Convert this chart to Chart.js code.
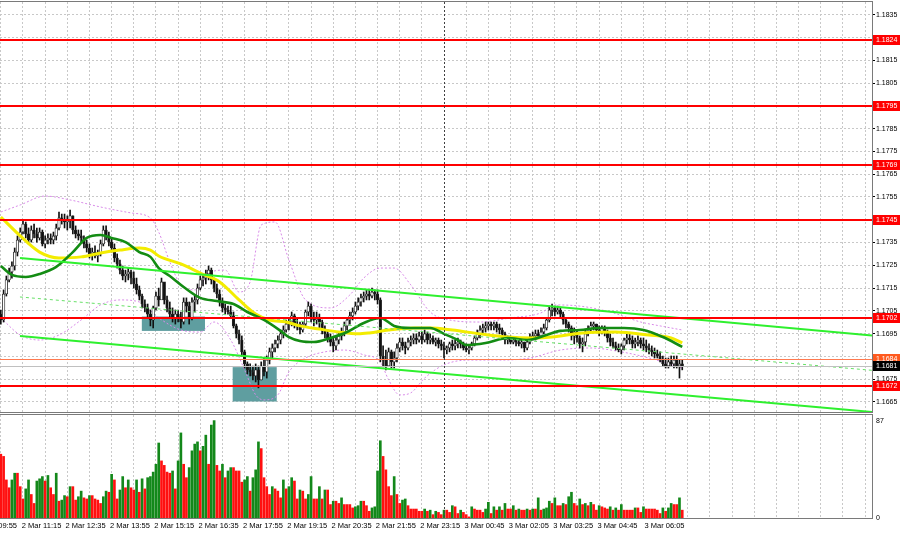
<!DOCTYPE html>
<html>
<head>
<meta charset="utf-8">
<script src="https://cdn.jsdelivr.net/npm/chart.js@4.4.1/dist/chart.umd.min.js"></script>
<style>
html,body{margin:0;padding:0;background:#fff;overflow:hidden;}
#main{position:absolute;left:0;top:0;}
#vol{position:absolute;left:0;top:412px;}
</style>
</head>
<body>
<canvas id="main" width="900" height="414"></canvas>
<canvas id="vol" width="900" height="122"></canvas>
<script>
// ---------- DATA (EURUSD M5, 2-3 Mar) ----------
const firstBar = -8; // bar index of first visible candle (bar 0 = 2 Mar 11:15)
const opens = [1.17036,1.17010,1.17124,1.17186,1.17221,1.17247,1.17308,1.17361,1.17396,1.17431,
1.17388,1.17361,1.17405,1.17388,1.17370,1.17396,1.17344,1.17361,1.17370,1.17361,
1.17379,1.17414,1.17458,1.17449,1.17440,1.17449,1.17467,1.17405,1.17388,1.17379,
1.17370,1.17344,1.17326,1.17300,1.17308,1.17291,1.17300,1.17344,1.17405,1.17379,
1.17352,1.17326,1.17282,1.17256,1.17229,1.17203,1.17212,1.17221,1.17194,1.17168,
1.17142,1.17115,1.17080,1.17063,1.17036,1.17010,1.17063,1.17115,1.17098,1.17177,
1.17098,1.17063,1.17036,1.17019,1.17036,1.17019,1.17001,1.17089,1.17071,1.17019,
1.17089,1.17098,1.17150,1.17186,1.17194,1.17212,1.17229,1.17186,1.17150,1.17124,
1.17089,1.17063,1.17054,1.17045,1.17028,1.16984,1.16949,1.16922,1.16870,1.16817,
1.16791,1.16782,1.16764,1.16791,1.16747,1.16808,1.16782,1.16834,1.16870,1.16887,
1.16905,1.16922,1.16949,1.16966,1.16992,1.17001,1.17028,1.16992,1.16984,1.16966,
1.16992,1.17045,1.17071,1.17019,1.17010,1.17019,1.17001,1.16966,1.16949,1.16931,
1.16913,1.16896,1.16922,1.16940,1.16957,1.16984,1.17010,1.17028,1.17045,1.17071,
1.17089,1.17107,1.17115,1.17124,1.17115,1.17133,1.17124,1.17098,1.16852,1.16834,
1.16808,1.16870,1.16826,1.16843,1.16887,1.16913,1.16896,1.16887,1.16913,1.16922,
1.16931,1.16922,1.16940,1.16922,1.16949,1.16922,1.16931,1.16913,1.16922,1.16905,
1.16896,1.16878,1.16887,1.16905,1.16896,1.16905,1.16913,1.16905,1.16887,1.16878,
1.16887,1.16905,1.16931,1.16949,1.16966,1.16975,1.16984,1.16992,1.16984,1.16992,
1.16975,1.16966,1.16949,1.16922,1.16931,1.16913,1.16922,1.16913,1.16905,1.16913,
1.16887,1.16913,1.16931,1.16940,1.16949,1.16940,1.16957,1.16975,1.17010,1.17054,
1.17063,1.17045,1.17054,1.17036,1.17010,1.16992,1.16975,1.16940,1.16957,1.16931,
1.16905,1.16913,1.16949,1.16966,1.16984,1.16992,1.16966,1.16957,1.16975,1.16957,
1.16931,1.16913,1.16896,1.16887,1.16878,1.16896,1.16922,1.16931,1.16922,1.16905,
1.16913,1.16922,1.16905,1.16896,1.16887,1.16878,1.16870,1.16861,1.16852,1.16834,
1.16817,1.16808,1.16826,1.16817,1.16834,1.16808,1.16817];
const highs = [1.17054,1.17142,1.17203,1.17238,1.17265,1.17326,1.17379,1.17414,1.17449,1.17440,
1.17414,1.17423,1.17431,1.17414,1.17414,1.17405,1.17379,1.17388,1.17388,1.17396,
1.17431,1.17484,1.17475,1.17475,1.17467,1.17493,1.17467,1.17423,1.17405,1.17405,
1.17379,1.17361,1.17344,1.17326,1.17335,1.17317,1.17361,1.17423,1.17423,1.17396,
1.17370,1.17344,1.17300,1.17273,1.17247,1.17229,1.17238,1.17229,1.17221,1.17194,
1.17159,1.17124,1.17098,1.17080,1.17054,1.17071,1.17133,1.17150,1.17194,1.17168,
1.17115,1.17089,1.17063,1.17054,1.17054,1.17045,1.17107,1.17107,1.17089,1.17107,
1.17115,1.17168,1.17203,1.17212,1.17229,1.17247,1.17238,1.17194,1.17168,1.17142,
1.17107,1.17080,1.17071,1.17071,1.17045,1.16992,1.16966,1.16940,1.16878,1.16826,
1.16817,1.16808,1.16817,1.16808,1.16826,1.16843,1.16852,1.16887,1.16905,1.16922,
1.16940,1.16966,1.16984,1.17010,1.17019,1.17045,1.17036,1.17019,1.17001,1.17001,
1.17054,1.17089,1.17080,1.17045,1.17045,1.17036,1.17010,1.16984,1.16966,1.16949,
1.16931,1.16940,1.16957,1.16975,1.17001,1.17019,1.17045,1.17063,1.17089,1.17107,
1.17124,1.17133,1.17142,1.17142,1.17150,1.17142,1.17142,1.17107,1.16896,1.16878,
1.16887,1.16878,1.16870,1.16905,1.16931,1.16931,1.16913,1.16931,1.16940,1.16949,
1.16949,1.16957,1.16957,1.16966,1.16957,1.16949,1.16940,1.16931,1.16931,1.16922,
1.16913,1.16896,1.16913,1.16922,1.16922,1.16931,1.16922,1.16913,1.16905,1.16896,
1.16913,1.16940,1.16966,1.16984,1.16992,1.17001,1.17001,1.17001,1.17001,1.17001,
1.16992,1.16975,1.16957,1.16940,1.16940,1.16931,1.16931,1.16931,1.16922,1.16913,
1.16922,1.16949,1.16957,1.16966,1.16966,1.16975,1.16992,1.17019,1.17071,1.17080,
1.17071,1.17071,1.17063,1.17045,1.17019,1.17001,1.16984,1.16975,1.16966,1.16940,
1.16931,1.16966,1.16984,1.17001,1.17001,1.16992,1.16984,1.16984,1.16984,1.16966,
1.16949,1.16931,1.16913,1.16905,1.16905,1.16931,1.16949,1.16949,1.16940,1.16931,
1.16940,1.16931,1.16931,1.16922,1.16905,1.16896,1.16887,1.16878,1.16870,1.16852,
1.16843,1.16843,1.16852,1.16852,1.16852,1.16834,1.16834];
const lows = [1.16992,1.17001,1.17115,1.17177,1.17194,1.17229,1.17291,1.17352,1.17388,1.17370,
1.17344,1.17352,1.17370,1.17352,1.17361,1.17335,1.17326,1.17344,1.17344,1.17344,
1.17361,1.17405,1.17431,1.17414,1.17405,1.17414,1.17388,1.17370,1.17361,1.17352,
1.17326,1.17308,1.17282,1.17273,1.17282,1.17265,1.17291,1.17335,1.17361,1.17335,
1.17308,1.17265,1.17238,1.17212,1.17186,1.17177,1.17186,1.17168,1.17150,1.17124,
1.17098,1.17063,1.17045,1.17019,1.16984,1.16975,1.17054,1.17071,1.17115,1.17080,
1.17045,1.17019,1.17001,1.16992,1.17001,1.16975,1.16992,1.17045,1.16992,1.17010,
1.17045,1.17080,1.17142,1.17159,1.17168,1.17186,1.17168,1.17133,1.17107,1.17071,
1.17045,1.17036,1.17036,1.17019,1.16975,1.16931,1.16905,1.16852,1.16799,1.16773,
1.16764,1.16747,1.16738,1.16712,1.16747,1.16764,1.16755,1.16817,1.16843,1.16870,
1.16887,1.16905,1.16931,1.16957,1.16966,1.16984,1.16975,1.16966,1.16949,1.16957,
1.16984,1.17028,1.17001,1.16984,1.16992,1.16975,1.16949,1.16931,1.16913,1.16896,
1.16870,1.16878,1.16905,1.16922,1.16940,1.16966,1.16992,1.17010,1.17036,1.17054,
1.17071,1.17089,1.17098,1.17098,1.17107,1.17098,1.17080,1.16826,1.16808,1.16791,
1.16808,1.16799,1.16799,1.16826,1.16870,1.16878,1.16861,1.16878,1.16896,1.16905,
1.16905,1.16913,1.16905,1.16913,1.16905,1.16905,1.16905,1.16896,1.16887,1.16878,
1.16843,1.16861,1.16870,1.16878,1.16878,1.16887,1.16887,1.16878,1.16870,1.16861,
1.16878,1.16896,1.16922,1.16931,1.16949,1.16957,1.16966,1.16966,1.16966,1.16957,
1.16949,1.16931,1.16905,1.16905,1.16905,1.16905,1.16896,1.16896,1.16887,1.16870,
1.16878,1.16905,1.16922,1.16922,1.16931,1.16931,1.16949,1.16966,1.17001,1.17028,
1.17028,1.17036,1.17019,1.16992,1.16975,1.16957,1.16922,1.16905,1.16913,1.16887,
1.16870,1.16896,1.16940,1.16957,1.16966,1.16957,1.16940,1.16949,1.16940,1.16913,
1.16896,1.16887,1.16878,1.16870,1.16861,1.16878,1.16905,1.16905,1.16887,1.16887,
1.16896,1.16887,1.16878,1.16870,1.16861,1.16852,1.16843,1.16843,1.16826,1.16808,
1.16799,1.16799,1.16808,1.16799,1.16799,1.16755,1.16791];
const closes = [1.17010,1.17124,1.17186,1.17221,1.17247,1.17308,1.17361,1.17396,1.17431,1.17388,
1.17361,1.17405,1.17388,1.17370,1.17396,1.17344,1.17361,1.17370,1.17361,1.17379,
1.17414,1.17458,1.17449,1.17440,1.17449,1.17467,1.17405,1.17388,1.17379,1.17370,
1.17344,1.17326,1.17300,1.17308,1.17291,1.17300,1.17344,1.17405,1.17379,1.17352,
1.17326,1.17282,1.17256,1.17229,1.17203,1.17212,1.17221,1.17194,1.17168,1.17142,
1.17115,1.17080,1.17063,1.17036,1.17010,1.17063,1.17115,1.17098,1.17177,1.17098,
1.17063,1.17036,1.17019,1.17036,1.17019,1.17001,1.17089,1.17071,1.17019,1.17089,
1.17098,1.17150,1.17186,1.17194,1.17212,1.17229,1.17186,1.17150,1.17124,1.17089,
1.17063,1.17054,1.17045,1.17028,1.16984,1.16949,1.16922,1.16870,1.16817,1.16791,
1.16782,1.16764,1.16791,1.16747,1.16808,1.16782,1.16834,1.16870,1.16887,1.16905,
1.16922,1.16949,1.16966,1.16992,1.17001,1.17028,1.16992,1.16984,1.16966,1.16992,
1.17045,1.17071,1.17019,1.17010,1.17019,1.17001,1.16966,1.16949,1.16931,1.16913,
1.16896,1.16922,1.16940,1.16957,1.16984,1.17010,1.17028,1.17045,1.17071,1.17089,
1.17107,1.17115,1.17124,1.17115,1.17133,1.17124,1.17098,1.16852,1.16834,1.16808,
1.16870,1.16826,1.16843,1.16887,1.16913,1.16896,1.16887,1.16913,1.16922,1.16931,
1.16922,1.16940,1.16922,1.16949,1.16922,1.16931,1.16913,1.16922,1.16905,1.16896,
1.16878,1.16887,1.16905,1.16896,1.16905,1.16913,1.16905,1.16887,1.16878,1.16887,
1.16905,1.16931,1.16949,1.16966,1.16975,1.16984,1.16992,1.16984,1.16992,1.16975,
1.16966,1.16949,1.16922,1.16931,1.16913,1.16922,1.16913,1.16905,1.16913,1.16887,
1.16913,1.16931,1.16940,1.16949,1.16940,1.16957,1.16975,1.17010,1.17054,1.17063,
1.17045,1.17054,1.17036,1.17010,1.16992,1.16975,1.16940,1.16957,1.16931,1.16905,
1.16913,1.16949,1.16966,1.16984,1.16992,1.16966,1.16957,1.16975,1.16957,1.16931,
1.16913,1.16896,1.16887,1.16878,1.16896,1.16922,1.16931,1.16922,1.16905,1.16913,
1.16922,1.16905,1.16896,1.16887,1.16878,1.16870,1.16861,1.16852,1.16834,1.16817,
1.16808,1.16826,1.16817,1.16834,1.16808,1.16817,1.16808];
const volumes = [57,55,34,27,34,40,40,28,17,26,34,21,13,33,35,37,33,38,
27,21,40,15,16,20,19,28,28,16,19,24,18,17,20,20,17,16,
13,19,24,23,39,34,17,25,37,27,34,27,25,34,23,35,26,36,
37,41,48,67,51,47,41,40,42,26,51,76,48,36,45,60,66,68,
60,64,74,48,83,87,47,42,48,36,42,45,45,42,42,32,34,37,
24,36,43,68,62,36,28,21,28,26,24,18,34,26,28,36,33,17,
25,24,17,21,37,17,17,28,17,25,25,12,15,15,13,18,12,12,
12,9,10,11,15,15,11,6,9,10,42,69,
55,43,28,20,37,21,13,16,17,11,8,8,8,6,6,8,6,7,3,6,5,
3,7,7,5,11,10,4,7,5,3,1,10,8,7,7,5,8,14,4,10,
7,10,7,13,8,8,11,7,8,7,7,8,7,8,8,18,7,8,9,15,
13,18,11,11,13,12,19,23,13,11,17,12,13,11,14,12,7,11,10,9,
8,10,7,9,7,12,7,7,7,7,9,9,5,10,8,8,8,8,7,4,
9,6,9,13,12,12,18,7];

// moving averages / bands : [bar index, price]
const maSlow = [[-8,1.17462],[-1,1.17379],[6,1.17308],[13,1.17282],[21,1.17287],[28,1.17304],[35,1.17317],[42,1.17326],[46,1.17317],[49,1.17291],[57,1.17256],[64,1.17216],[71,1.17177],[78,1.17098],[84,1.17036],[89,1.17010],[95,1.17001],[100,1.16984],[107,1.16970],[114,1.16957],[121,1.16949],[125,1.16953],[132,1.16966],[141,1.16975],[147,1.16975],[155,1.16966],[165,1.16949],[175,1.16935],[184,1.16931],[191,1.16935],[202,1.16953],[214,1.16957],[226,1.16944],[234,1.16931],[238,1.16909]];
const maFast = [[-8,1.17247],[-4,1.17208],[1,1.17199],[6,1.17212],[12,1.17243],[18,1.17308],[23,1.17370],[28,1.17383],[32,1.17370],[37,1.17352],[42,1.17308],[46,1.17287],[49,1.17238],[53,1.17203],[58,1.17155],[64,1.17107],[70,1.17093],[76,1.17080],[81,1.17045],[87,1.17010],[93,1.16962],[96,1.16935],[100,1.16918],[105,1.16913],[111,1.16931],[117,1.16957],[123,1.16997],[129,1.17019],[134,1.16984],[140,1.16975],[147,1.16975],[152,1.16949],[157,1.16922],[160,1.16900],[167,1.16909],[175,1.16931],[182,1.16922],[189,1.16944],[194,1.16962],[201,1.16966],[208,1.16975],[217,1.16975],[224,1.16966],[231,1.16935],[238,1.16892]];
const bbUpper = [[-8,1.17484],[-1,1.17515],[8,1.17554],[17,1.17537],[28,1.17506],[39,1.17480],[46,1.17458],[49,1.17396],[53,1.17265],[57,1.17164],[62,1.17142],[68,1.17221],[73,1.17229],[78,1.17133],[82,1.17177],[86,1.17427],[91,1.17440],[96,1.17273],[102,1.17098],[111,1.17063],[118,1.17120],[123,1.17194],[129,1.17238],[134,1.17238],[140,1.17164],[147,1.17045],[154,1.17010],[165,1.17001],[176,1.17019],[187,1.17041],[192,1.17076],[201,1.17071],[212,1.17045],[223,1.17001],[230,1.16984],[238,1.16966]];
const bbLower = [[-8,1.17019],[-1,1.16944],[6,1.16922],[13,1.16944],[21,1.17010],[28,1.17076],[35,1.17098],[42,1.17089],[49,1.17019],[57,1.16966],[64,1.16957],[69,1.17001],[75,1.16922],[80,1.16791],[84,1.16681],[87,1.16659],[92,1.16681],[96,1.16782],[102,1.16843],[109,1.16870],[116,1.16878],[123,1.16857],[129,1.16826],[132,1.16747],[136,1.16681],[140,1.16690],[145,1.16755],[152,1.16813],[161,1.16834],[172,1.16834],[183,1.16843],[194,1.16878],[205,1.16887],[216,1.16870],[226,1.16843],[238,1.16799]];

// drawn objects
const channelUpper = [[-1.1,1.17282],[306.5,1.16942]];
const channelMid   = [[-1.1,1.17111],[306.5,1.16789]];
const channelLower = [[-1.1,1.16940],[306.5,1.16606]];
const levels = [1.1824,1.1795,1.1769,1.1745,1.1702,1.1672];
const pendingLevel = 1.1684;
const lastPrice = 1.1681;
const zones = [[42.9,65.7,1.17025,1.16962],[75.7,91.6,1.16803,1.16652]];
const daySeparatorBar = 152;

// axes
const priceGrid = [1.1665,1.1675,1.1685,1.1695,1.1705,1.1715,1.1725,1.1735,1.1745,1.1755,1.1765,1.1775,1.1785,1.1795,1.1805,1.1815,1.1825,1.1835];
const hiddenPriceLabels = [1.1685,1.1745,1.1795,1.1825];
const timeLabels = ["2 Mar 09:55","2 Mar 11:15","2 Mar 12:35","2 Mar 13:55","2 Mar 15:15","2 Mar 16:35","2 Mar 17:55","2 Mar 19:15","2 Mar 20:35","2 Mar 21:55","2 Mar 23:15","3 Mar 00:45","3 Mar 02:05","3 Mar 03:25","3 Mar 04:45","3 Mar 06:05"];
const timeLabelBars = [-16,0,16,32,48,64,80,96,112,128,144,160,176,192,208,224];
const volumeTicks = [0,87];

// ---------- RENDER ----------
const FONT = '"Liberation Sans", Arial, sans-serif';
const xMin = -8.3, xMax = 306.5;
const yMin = 1.16606, yMax = 1.18406;
const gridBars = [];
for (let b = -8; b <= 304; b += 8) gridBars.push(b);
const pts = a => a.map(p => ({x: p[0], y: p[1]}));
const barX = i => firstBar + i;

const GRID = '#c8c8c8';
const FRAME = '#7a7a7a';

function drawSeparator(chart){
  const {ctx, chartArea:a, scales:{x}} = chart;
  const px = Math.round(x.getPixelForValue(daySeparatorBar)) + 0.5;
  ctx.save();
  ctx.strokeStyle = '#404040'; ctx.lineWidth = 1; ctx.setLineDash([2,2]);
  ctx.beginPath(); ctx.moveTo(px, a.top); ctx.lineTo(px, a.bottom); ctx.stroke();
  ctx.restore();
}
function drawFrame(chart){
  const {ctx, chartArea:a} = chart;
  ctx.save();
  ctx.strokeStyle = FRAME; ctx.lineWidth = 1;
  ctx.strokeRect(Math.round(a.left)-0.5, Math.round(a.top)-0.5, Math.round(a.right-a.left)+1, Math.round(a.bottom-a.top)+1);
  ctx.restore();
}
function tagBox(ctx, x0, y, text, fill){
  ctx.fillStyle = fill;
  ctx.fillRect(x0, Math.round(y)-5, 900-x0, 10);
  ctx.fillStyle = '#fff';
  ctx.font = '7px ' + FONT;
  ctx.textBaseline = 'middle'; ctx.textAlign = 'left';
  ctx.fillText(text, x0 + 3, Math.round(y) + 0.5);
}

const mainPlugin = {
  id: 'mainDeco',
  beforeDatasetsDraw(chart){
    const {ctx, scales:{x, y}} = chart;
    ctx.save();
    ctx.fillStyle = '#5f9ea0';
    zones.forEach(z => {
      const x1 = x.getPixelForValue(z[0]), x2 = x.getPixelForValue(z[1]);
      const y1 = y.getPixelForValue(z[2]), y2 = y.getPixelForValue(z[3]);
      ctx.fillRect(x1, y1, x2-x1, y2-y1);
    });
    ctx.restore();
  },
  afterDatasetsDraw(chart){
    const {ctx, chartArea:a, scales:{y}} = chart;
    ctx.save();
    ctx.beginPath(); ctx.rect(a.left, a.top, a.right-a.left, a.bottom-a.top); ctx.clip();
    let py = Math.round(y.getPixelForValue(lastPrice)) + 0.5;
    ctx.strokeStyle = '#c0c0c0'; ctx.lineWidth = 1;
    ctx.beginPath(); ctx.moveTo(a.left, py); ctx.lineTo(a.right, py); ctx.stroke();
    py = Math.round(y.getPixelForValue(pendingLevel)) + 0.5;
    ctx.strokeStyle = '#ff7a50';
    ctx.beginPath(); ctx.moveTo(a.left, py); ctx.lineTo(a.right, py); ctx.stroke();
    ctx.strokeStyle = '#ff0000'; ctx.lineWidth = 2;
    levels.forEach(v => {
      const p = Math.round(y.getPixelForValue(v));
      ctx.beginPath(); ctx.moveTo(a.left, p); ctx.lineTo(a.right, p); ctx.stroke();
    });
    ctx.restore();
    drawSeparator(chart);
  },
  afterDraw(chart){
    const {ctx, chartArea:a, scales:{y}} = chart;
    drawFrame(chart);
    ctx.save();
    const x0 = Math.round(a.right) + 1;
    levels.forEach(v => tagBox(ctx, x0, y.getPixelForValue(v), v.toFixed(4), '#ff0000'));
    tagBox(ctx, x0, y.getPixelForValue(pendingLevel), pendingLevel.toFixed(4), '#ff5a1e');
    tagBox(ctx, x0, y.getPixelForValue(lastPrice), lastPrice.toFixed(4), '#000000');
    ctx.restore();
  }
};

const lineDs = (label, data, color, width, dash, order, tension) => ({
  type: 'line', label, data: pts(data), borderColor: color, borderWidth: width,
  borderDash: dash, pointRadius: 0, fill: false, order,
  tension: tension, cubicInterpolationMode: tension ? 'monotone' : 'default'
});

new Chart(document.getElementById('main'), {
  type: 'bar',
  data: {
    datasets: [
      lineDs('BB upper', bbUpper, '#d88ae8', 1, [2,2], 9, 0.4),
      lineDs('BB lower', bbLower, '#d88ae8', 1, [2,2], 9, 0.4),
      {
        type: 'bar', label: 'wick',
        data: highs.map((h, i) => ({x: barX(i), y: [lows[i], h]})),
        backgroundColor: '#111', barThickness: 1, grouped: false, order: 8
      },
      {
        type: 'bar', label: 'body',
        data: opens.map((o, i) => ({x: barX(i), y: [o, closes[i]]})),
        backgroundColor: c => closes[c.dataIndex] >= opens[c.dataIndex] ? '#ffffff' : '#111111',
        borderColor: '#222', borderWidth: 0.8, borderSkipped: false,
        barThickness: 2.6, grouped: false, minBarLength: 1, order: 7
      },
      lineDs('MA slow', maSlow, '#f3ec00', 3, [], 5, 0.4),
      lineDs('MA fast', maFast, '#138c13', 2.6, [], 4, 0.4),
      lineDs('Channel mid', channelMid, '#66e066', 1, [3,3], 3, 0),
      lineDs('Channel upper', channelUpper, '#2ef02e', 2, [], 2, 0),
      lineDs('Channel lower', channelLower, '#2ef02e', 2, [], 2, 0)
    ]
  },
  options: {
    responsive: false, animation: false, events: [],
    layout: {padding: {top: 2, bottom: 2, left: 0, right: 0}},
    plugins: {legend: {display: false}, tooltip: {enabled: false}},
    scales: {
      x: {
        type: 'linear', min: xMin, max: xMax, offset: false,
        afterBuildTicks: s => { s.ticks = gridBars.map(v => ({value: v})); },
        afterFit: s => { s.height = 0; s.paddingLeft = 0; s.paddingRight = 0; },
        ticks: {display: false},
        grid: {color: GRID, drawTicks: false, offset: false},
        border: {display: false, dash: [2,2]}
      },
      y: {
        type: 'linear', position: 'right', min: yMin, max: yMax,
        afterBuildTicks: s => { s.ticks = priceGrid.map(v => ({value: v})); },
        afterFit: s => { s.width = 28; s.paddingTop = 0; s.paddingBottom = 0; },
        ticks: {
          callback: v => hiddenPriceLabels.some(h => Math.abs(h - v) < 1e-7) ? '' : Number(v).toFixed(4),
          font: {family: FONT, size: 7}, color: '#000', padding: 1, crossAlign: 'near'
        },
        grid: {color: GRID, drawTicks: true, tickLength: 3, tickColor: '#000'},
        border: {display: false, dash: [2,2]}
      }
    }
  },
  plugins: [mainPlugin]
});

// ---------- VOLUME PANEL ----------
const volPlugin = {
  id: 'volDeco',
  afterDatasetsDraw(chart){ drawSeparator(chart); },
  afterDraw(chart){
    const {ctx, chartArea:a, scales:{x}} = chart;
    drawFrame(chart);
    ctx.save();
    ctx.font = '7.5px ' + FONT; ctx.fillStyle = '#000'; ctx.textBaseline = 'middle';
    const starts = timeLabelBars.map(b => x.getPixelForValue(b));
    timeLabels.forEach((t, i) => {
      let px = starts[i];
      const w = ctx.measureText(t).width;
      if (i + 1 < starts.length && px + w > starts[i+1] - 7) px = starts[i+1] - 7 - w;
      ctx.textAlign = 'left';
      ctx.fillText(t, px + 1, a.bottom + 8);
    });
    ctx.restore();
  }
};

new Chart(document.getElementById('vol'), {
  type: 'bar',
  data: {
    datasets: [{
      label: 'Volumes',
      data: volumes.map((v, i) => ({x: barX(i), y: v})),
      backgroundColor: c => (c.dataIndex > 0 && volumes[c.dataIndex] > volumes[c.dataIndex - 1]) ? '#13881a' : '#ff1010',
      barThickness: 2, grouped: false
    }]
  },
  options: {
    responsive: false, animation: false, events: [],
    layout: {padding: {top: 3, bottom: 0, left: 0, right: 0}},
    plugins: {legend: {display: false}, tooltip: {enabled: false}},
    scales: {
      x: {
        type: 'linear', min: xMin, max: xMax, offset: false,
        afterBuildTicks: s => { s.ticks = gridBars.map(v => ({value: v})); },
        afterFit: s => { s.height = 16; s.paddingLeft = 0; s.paddingRight = 0; },
        ticks: {display: false},
        grid: {color: GRID, drawTicks: false, offset: false},
        border: {display: false, dash: [2,2]}
      },
      y: {
        type: 'linear', position: 'right', min: 0, max: 92,
        afterBuildTicks: s => { s.ticks = volumeTicks.map(v => ({value: v})); },
        afterFit: s => { s.width = 28; s.paddingTop = 0; s.paddingBottom = 0; },
        ticks: {font: {family: FONT, size: 7}, color: '#000', padding: 1, crossAlign: 'near'},
        grid: {display: false, drawTicks: true, tickLength: 3},
        border: {display: false}
      }
    }
  },
  plugins: [volPlugin]
});
</script>
</body>
</html>
